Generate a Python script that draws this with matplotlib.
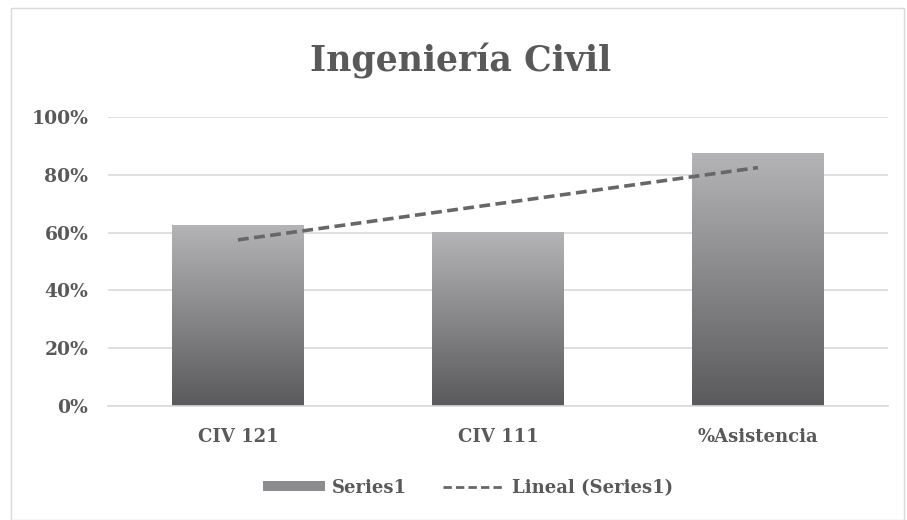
import numpy as np
import matplotlib
matplotlib.use("Agg")
from matplotlib import pyplot as plt
from matplotlib.colors import LinearSegmentedColormap
from matplotlib.patches import Rectangle
from matplotlib.lines import Line2D

plt.rcParams['font.family'] = ['DejaVu Serif']

categorias = ['CIV 121', 'CIV 111', '%Asistencia']
valores = [62.5, 60.0, 87.5]
yticks = [0, 20, 40, 60, 80, 100]
ytick_labels = ['0%', '20%', '40%', '60%', '80%', '100%']

txt = '#595959'
grad = LinearSegmentedColormap.from_list('g', ['#5a5a5c', '#b4b4b7'])

fig = plt.figure(figsize=(9.07, 5.2), dpi=100)
ax = fig.add_axes([0.119, 0.219, 0.860, 0.556])

x = np.arange(len(categorias))
ancho = 0.505
bars = ax.bar(x, valores, width=ancho, color='none', zorder=2)
g = np.linspace(0, 1, 256).reshape(-1, 1)
for b in bars:
    x0, w, h = b.get_x(), b.get_width(), b.get_height()
    ax.imshow(g, cmap=grad, origin='lower', aspect='auto',
              extent=[x0, x0 + w, 0, h], zorder=2)

# linea de tendencia lineal
m, c = np.polyfit(x, valores, 1)
ax.plot(x, m * x + c, linestyle=(0, (3, 1.5)), color='#676767',
        linewidth=2.6, zorder=3)

ax.set_xlim(-0.5, 2.5)
ax.set_ylim(0, 100)
ax.set_yticks(yticks)
ax.set_yticklabels(ytick_labels)
ax.set_xticks(x)
ax.set_xticklabels(categorias)
ax.grid(True, axis='y', color='#d9d9d9', linewidth=1.2, zorder=0)
ax.set_axisbelow(True)
for s in ['top', 'right', 'left']:
    ax.spines[s].set_visible(False)
ax.spines['bottom'].set_color('#d9d9d9')
ax.spines['bottom'].set_linewidth(1.2)
ax.tick_params(length=0, colors=txt)
ax.tick_params(axis='x', pad=16, labelsize=13)
ax.tick_params(axis='y', pad=14, labelsize=13.5)
for t in ax.get_xticklabels() + ax.get_yticklabels():
    t.set_fontweight('bold')

fig.text(0.508, 0.882, 'Ingeniería Civil', ha='center', va='center',
         fontsize=25, fontweight='bold', color=txt)

handles = [Rectangle((0, 0), 1, 1, facecolor='#8c8c8e'),
           Line2D([0], [0], linestyle=(0, (3, 1.5)), color='#676767', linewidth=2)]
fig.legend(handles, ['Series1', 'Lineal (Series1)'], loc='center',
           bbox_to_anchor=(0.516, 0.062), ncol=2, frameon=False,
           prop={'size': 13, 'weight': 'bold'}, labelcolor=txt,
           handlelength=3.4, handleheight=0.5, columnspacing=2.0, handletextpad=0.4)

fig.patches.append(Rectangle((0.012, 0.0), 0.985, 0.985, transform=fig.transFigure,
                             fill=False, edgecolor='#d9d9d9', linewidth=1))

fig.savefig('out.png', dpi=100)
